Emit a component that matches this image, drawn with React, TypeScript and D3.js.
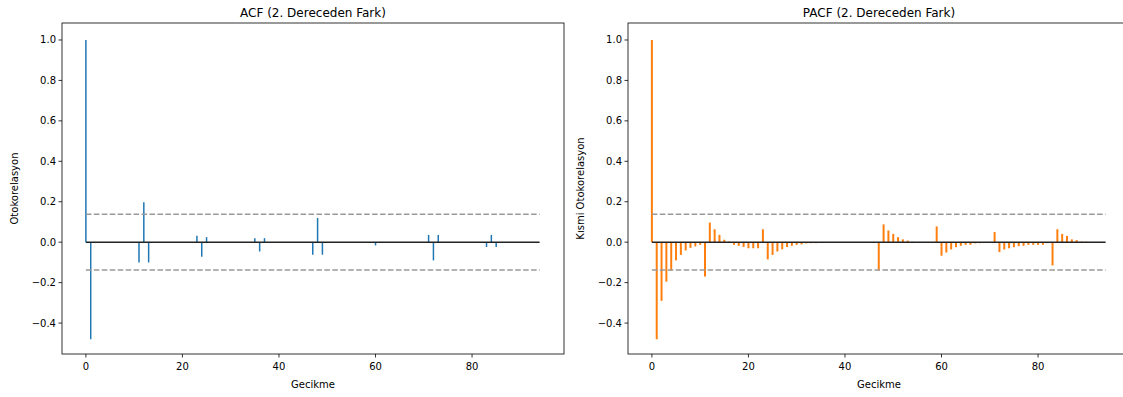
import React from 'react';
import * as d3 from 'd3';

// ACF values, lags 0..94
const acfValues: number[] = [
  1.0, -0.48, 0, 0, 0, 0, 0, 0, 0, 0,
  0, -0.10, 0.198, -0.10, -0.004, -0.004, -0.004, -0.004, -0.004, -0.004,
  -0.004, -0.004, -0.004, 0.032, -0.072, 0.025, 0, 0, 0, 0,
  0, 0, 0, 0, 0, 0.02, -0.046, 0.02, 0, 0,
  0, 0, 0, 0, 0, 0, 0, -0.062, 0.12, -0.062,
  0, 0, 0, 0, 0, 0, 0, 0, -0.004, -0.004,
  -0.016, -0.004, 0, 0, 0, 0, 0, 0, 0, 0,
  0, 0.036, -0.09, 0.036, 0, 0, 0, 0, 0, 0,
  0, 0, 0, -0.024, 0.036, -0.024, 0, 0, 0, 0,
  0, 0, 0, 0, 0,
];

// PACF values, lags 0..94
const pacfValues: number[] = [
  1.0, -0.48, -0.29, -0.195, -0.14, -0.09, -0.063, -0.041, -0.028, -0.021,
  -0.013, -0.17, 0.097, 0.064, 0.036, 0.012, 0.003, -0.013, -0.018, -0.024,
  -0.03, -0.03, -0.03, 0.064, -0.085, -0.063, -0.046, -0.035, -0.024, -0.018,
  -0.013, -0.011, -0.006, -0.005, -0.005, -0.004, -0.004, -0.003, -0.003, -0.003,
  -0.002, -0.002, -0.002, -0.002, -0.001, -0.001, -0.001, -0.14, 0.088, 0.058,
  0.041, 0.025, 0.014, 0.008, 0.002, -0.003, -0.004, -0.004, -0.004, 0.078,
  -0.067, -0.051, -0.036, -0.025, -0.018, -0.013, -0.013, -0.006, -0.005, -0.004,
  -0.004, 0.05, -0.049, -0.036, -0.03, -0.025, -0.02, -0.018, -0.013, -0.013,
  -0.013, -0.013, -0.005, -0.115, 0.064, 0.041, 0.031, 0.014, 0.01, 0.003,
  0.002, 0.001, 0.001, 0, 0,
];

const xTicks: number[] = [0, 20, 40, 60, 80];
const yTicks: number[] = [-0.4, -0.2, 0.0, 0.2, 0.4, 0.6, 0.8, 1.0];
const confBound = 0.138;

const FONT = 'DejaVu Sans, sans-serif';
const TOP = 23;
const BOTTOM = 354;
const PANEL_W = 502;

const fmt = (v: number) => {
  const s = Math.abs(v).toFixed(1);
  return v < -1e-9 ? '\u2212' + s : s;
};

interface PanelProps {
  left: number;
  values: number[];
  color: string;
  barWidth: number;
  title: string;
  ylabel: string;
}

function Panel({ left, values, color, barWidth, title, ylabel }: PanelProps) {
  const x = d3.scaleLinear().domain([-4.95, 99.05]).range([left, left + PANEL_W]);
  const y = d3.scaleLinear().domain([-0.553, 1.084]).range([BOTTOM, TOP]);
  const lastLag = values.length - 1;
  const cx = left + PANEL_W / 2;
  return (
    <g>
      {/* bars */}
      {values.map((v, i) => (
        <line
          key={i}
          x1={x(i)}
          x2={x(i)}
          y1={y(0)}
          y2={y(v)}
          stroke={color}
          strokeWidth={barWidth}
        />
      ))}
      {/* zero line */}
      <line x1={x(0)} x2={x(lastLag)} y1={y(0)} y2={y(0)} stroke="#222" strokeWidth={1.6} />
      {/* confidence bounds */}
      {[confBound, -confBound].map((c, i) => (
        <line
          key={i}
          x1={x(0)}
          x2={x(lastLag)}
          y1={y(c)}
          y2={y(c)}
          stroke="#999"
          strokeWidth={1.5}
          strokeDasharray="5.55 2.4"
        />
      ))}
      {/* frame */}
      <rect x={left} y={TOP} width={PANEL_W} height={BOTTOM - TOP} fill="none" stroke="#000" strokeWidth={0.8} />
      {/* y ticks */}
      {yTicks.map((t) => (
        <g key={t}>
          <line x1={left - 3.5} x2={left} y1={y(t)} y2={y(t)} stroke="#000" strokeWidth={0.8} />
          <text x={left - 6} y={y(t)} dy="0.35em" textAnchor="end" fontSize={10} fontFamily={FONT} fill="#000">
            {fmt(t)}
          </text>
        </g>
      ))}
      {/* x ticks */}
      {xTicks.map((t) => (
        <g key={t}>
          <line x1={x(t)} x2={x(t)} y1={BOTTOM} y2={BOTTOM + 3.5} stroke="#000" strokeWidth={0.8} />
          <text x={x(t)} y={BOTTOM + 16} textAnchor="middle" fontSize={10} fontFamily={FONT} fill="#000">
            {t}
          </text>
        </g>
      ))}
      {/* labels */}
      <text x={cx} y={17} textAnchor="middle" fontSize={12} fontFamily={FONT} fill="#000">
        {title}
      </text>
      <text x={cx} y={388} textAnchor="middle" fontSize={10} fontFamily={FONT} fill="#000">
        Gecikme
      </text>
      <text
        transform={`translate(${left - 44},${(TOP + BOTTOM) / 2}) rotate(-90)`}
        textAnchor="middle"
        fontSize={10}
        fontFamily={FONT}
        fill="#000"
      >
        {ylabel}
      </text>
    </g>
  );
}

export default function App() {
  return (
    <div style={{ position: 'fixed', left: 0, top: 0, width: 1123, height: 397, overflow: 'hidden', background: '#fff' }}>
      <svg width={1123} height={397} style={{ display: 'block' }}>
        <rect width={1123} height={397} fill="#fff" />
        <Panel left={62} values={acfValues} color="#1f77b4" barWidth={1.5} title="ACF (2. Dereceden Fark)" ylabel="Otokorelasyon" />
        <Panel left={628} values={pacfValues} color="#ff7f0e" barWidth={2} title="PACF (2. Dereceden Fark)" ylabel="Kısmi Otokorelasyon" />
      </svg>
    </div>
  );
}
